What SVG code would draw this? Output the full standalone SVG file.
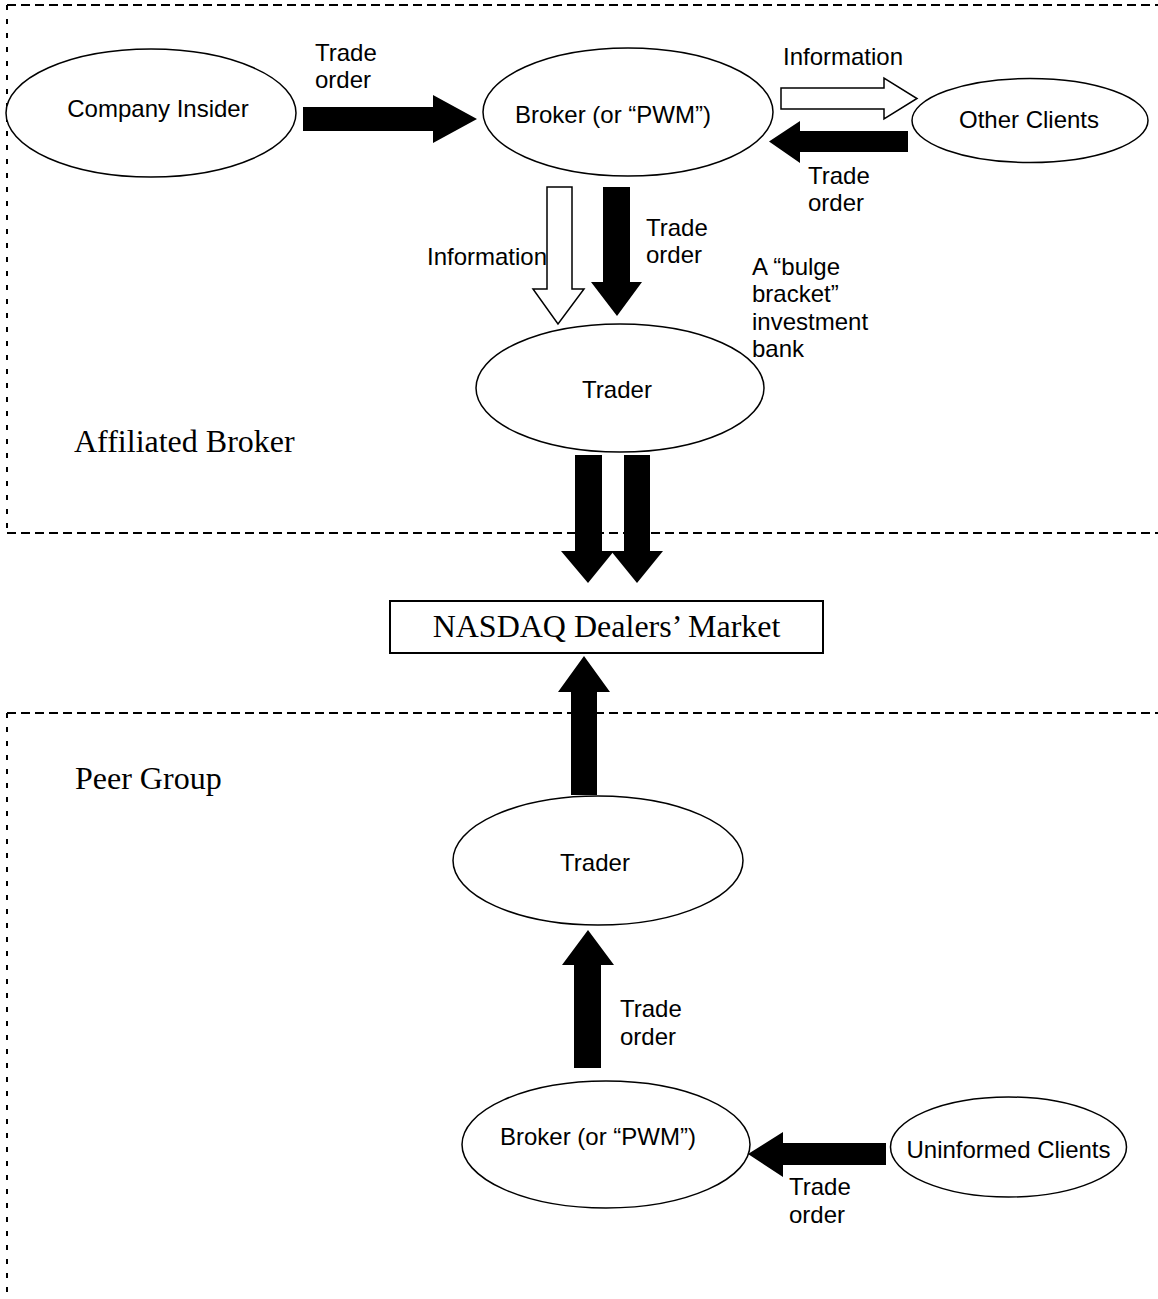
<svg xmlns="http://www.w3.org/2000/svg" width="1158" height="1299" viewBox="0 0 1158 1299">
<style>
.bg{fill:#fff}
.hd{fill:none;stroke:#000;stroke-width:2;stroke-dasharray:9 5}
.vd{fill:none;stroke:#000;stroke-width:2;stroke-dasharray:5 9}
.node{fill:#fff;stroke:#000;stroke-width:1.5}
.box{fill:#fff;stroke:#000;stroke-width:2}
.solid{fill:#000;stroke:none}
.hollow{fill:#fff;stroke:#000;stroke-width:1.5;stroke-linejoin:miter}
.t{font-family:"Liberation Sans",Arial,sans-serif;font-size:24px;fill:#000}
.c{text-anchor:middle}
.s{font-family:"Liberation Serif","Times New Roman",serif;font-size:32px;fill:#000}
</style>
<rect class="bg" x="0" y="0" width="1158" height="1299"/>
<g id="groups">
  <line class="hd" x1="7" y1="5" x2="1158" y2="5"/>
  <line class="vd" x1="7" y1="5" x2="7" y2="533"/>
  <line class="hd" x1="7" y1="533" x2="1158" y2="533"/>
  <line class="hd" x1="7" y1="713" x2="1158" y2="713"/>
  <line class="vd" x1="7" y1="713" x2="7" y2="1299"/>
  <text class="s" x="74" y="452">Affiliated Broker</text>
  <text class="s" x="75" y="789">Peer Group</text>
  <text class="t" x="752" y="275">A “bulge</text>
  <text class="t" x="752" y="302">bracket”</text>
  <text class="t" x="752" y="330">investment</text>
  <text class="t" x="752" y="357">bank</text>
</g>
<g id="connectors">
  <polygon class="solid" points="303,107 433,107 433,95 477,119 433,143 433,131 303,131"/>
  <polygon class="hollow" points="781,88 884,88 884,78 917,98.5 884,119 884,109 781,109"/>
  <polygon class="solid" points="908,131 800,131 800,121 769,141.5 800,163 800,152 908,152"/>
  <polygon class="hollow" points="547,187 572,187 572,289 584,289 558,324 533,289 547,289"/>
  <polygon class="solid" points="603,187 630,187 630,282 642,282 617,316 591,282 603,282"/>
  <polygon class="solid" points="575,455 602,455 602,551 614,551 588,583 561,551 575,551"/>
  <polygon class="solid" points="624,455 650,455 650,551 663,551 637,583 611,551 624,551"/>
  <polygon class="solid" points="571,795 597,795 597,692 610,692 584,656 558,692 571,692"/>
  <polygon class="solid" points="574,1068 601,1068 601,965 614,965 588,930 562,965 574,965"/>
  <polygon class="solid" points="886,1143 783,1143 783,1132 748,1154 783,1177 783,1165 886,1165"/>
  <text class="t" x="315" y="61">Trade</text>
  <text class="t" x="315" y="88">order</text>
  <text class="t" x="783" y="65">Information</text>
  <text class="t" x="808" y="184">Trade</text>
  <text class="t" x="808" y="211">order</text>
  <text class="t" x="427" y="265">Information</text>
  <text class="t" x="646" y="236">Trade</text>
  <text class="t" x="646" y="263">order</text>
  <text class="t" x="620" y="1017">Trade</text>
  <text class="t" x="620" y="1045">order</text>
  <text class="t" x="789" y="1195">Trade</text>
  <text class="t" x="789" y="1223">order</text>
</g>
<g id="company-insider">
  <ellipse class="node" cx="151" cy="113" rx="145" ry="64"/>
  <text class="t c" x="158" y="117">Company Insider</text>
</g>
<g id="broker-affiliated">
  <ellipse class="node" cx="628" cy="112" rx="145" ry="64"/>
  <text class="t c" x="613" y="123">Broker (or “PWM”)</text>
</g>
<g id="other-clients">
  <ellipse class="node" cx="1030" cy="120.5" rx="118" ry="42"/>
  <text class="t c" x="1029" y="128">Other Clients</text>
</g>
<g id="trader-affiliated">
  <ellipse class="node" cx="620" cy="388" rx="144" ry="64"/>
  <text class="t c" x="617" y="398">Trader</text>
</g>
<g id="nasdaq">
  <rect class="box" x="390" y="601" width="433" height="52"/>
  <text class="s c" x="606.5" y="637">NASDAQ Dealers’ Market</text>
</g>
<g id="trader-peer">
  <ellipse class="node" cx="598" cy="860.5" rx="145" ry="64.5"/>
  <text class="t c" x="595" y="871">Trader</text>
</g>
<g id="broker-peer">
  <ellipse class="node" cx="606" cy="1144.5" rx="144" ry="63.5"/>
  <text class="t c" x="598" y="1145">Broker (or “PWM”)</text>
</g>
<g id="uninformed-clients">
  <ellipse class="node" cx="1008.5" cy="1147" rx="118" ry="50"/>
  <text class="t c" x="1008.5" y="1158">Uninformed Clients</text>
</g>
</svg>
